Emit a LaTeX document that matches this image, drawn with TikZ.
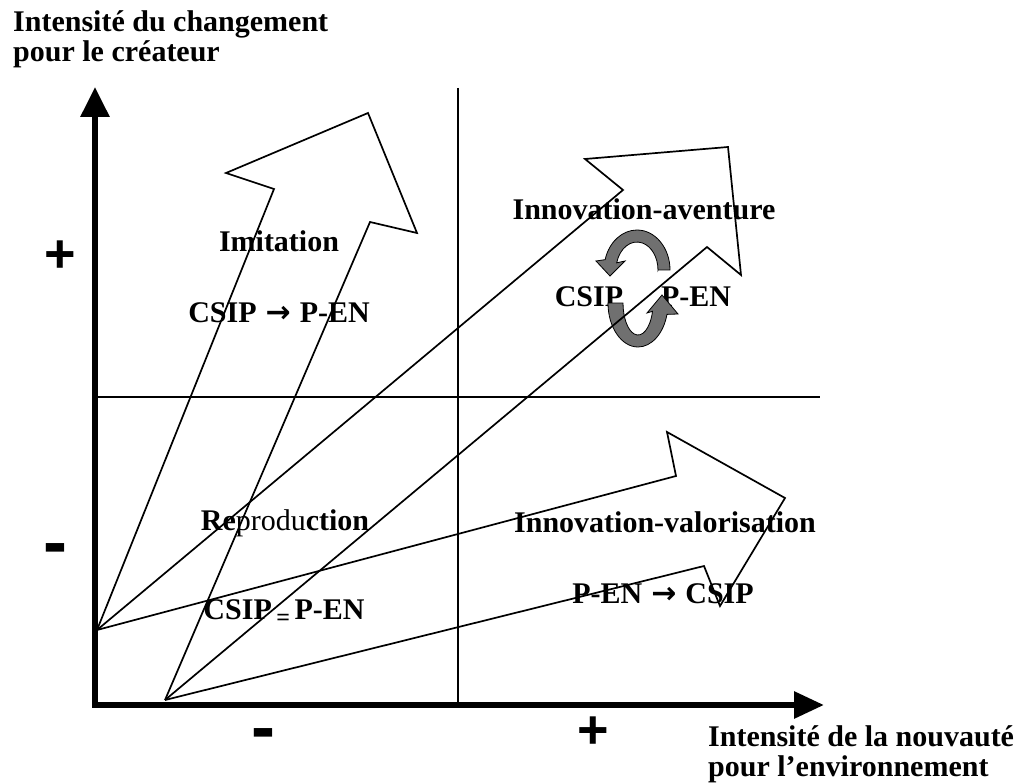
\documentclass[tikz,border=0pt]{standalone}
\usepackage{fontspec}
\setmainfont{Liberation Serif}
\newfontfamily\signfont{Liberation Sans}
\newfontfamily\symfont{DejaVu Sans}
\usetikzlibrary{arrows.meta}

\definecolor{turngray}{RGB}{112,112,112}
\newcommand{\flowsym}{\hspace{0.3em}{\symfont\bfseries\fontsize{30}{30}\selectfont →}\hspace{0.3em}}
\newcommand{\eqsym}{\hspace{0.15em}\raisebox{-0.5ex}{\fontsize{24}{24}\selectfont =}\hspace{0.15em}}

\tikzset{
  label text/.style={font=\fontsize{30}{30}\selectfont\bfseries, inner sep=0pt, anchor=base},
  sign text/.style={font=\signfont\bfseries, inner sep=0pt},
  big arrow/.style={draw, line width=1.7pt, line join=miter},
  turn arrow/.style={draw=black, line width=0.8pt, fill=turngray},
  axis/.style={line width=6pt, {Triangle[length=30pt,width=28pt]}-{Triangle[length=30pt,width=26pt]}},
  divider/.style={line width=1.4pt},
}

\begin{document}
\begin{tikzpicture}[x=1pt,y=-1pt]
	\useasboundingbox (0,0) rectangle (1030,783);
	% axis titles
	\node[label text, anchor=base west] (ytitle1) at (13,32) {Intensité du changement};
	\node[label text, anchor=base west] (ytitle2) at (13,62) {pour le créateur};
	\node[label text, anchor=base west] (xtitle1) at (708,746) {Intensité de la nouvauté};
	\node[label text, anchor=base west] (xtitle2) at (708,776) {pour l’environnement};
	% signs on the axes
	\node[sign text, font=\signfont\bfseries\fontsize{54}{54}\selectfont] (yplus) at (60,257) {+};
	\node[sign text, font=\signfont\bfseries\fontsize{72}{72}\selectfont] (yminus) at (55,555) {-};
	\node[sign text, font=\signfont\bfseries\fontsize{72}{72}\selectfont] (xminus) at (263,740) {-};
	\node[sign text, font=\signfont\bfseries\fontsize{54}{54}\selectfont] (xplus) at (593,733) {+};
	% quadrant labels
	\node[label text] (imit) at (279,252) {Imitation};
	\node[label text] (imitrel) at (279,323) {CSIP\flowsym P-EN};
	\node[label text] (avent) at (644,220) {Innovation-aventure};
	\node[label text] (aventcsip) at (589,307) {CSIP};
	\node[label text] (aventpen) at (696,307) {P-EN};
	\node[label text] (repro) at (285,530) {Re{\mdseries produ}ction};
	\node[label text] (reprorel) at (284,619) {CSIP\eqsym P-EN};
	\node[label text] (valo) at (665,532) {Innovation-valorisation};
	\node[label text] (valorel) at (663,603) {P-EN\flowsym CSIP};
	% turning arrows between CSIP and P-EN
	\filldraw[turn arrow] (658,270) -- (670,270) arc[start angle=0, end angle=-165, x radius=33, y radius=40]
		-- (596,261) -- (610,276) -- (625,261) -- (616.7,262.8) arc[start angle=-165, end angle=0, x radius=21, y radius=28] -- cycle;
	\filldraw[turn arrow] (608,303) arc[start angle=180, end angle=15, x radius=30, y radius=44]
		-- (678,314) -- (662,295) -- (647,313) -- (652.5,311.3) arc[start angle=15, end angle=180, x radius=15, y radius=32] -- cycle;
	% quadrant dividers
	\draw[divider] (458,88) -- (458,705);
	\draw[divider] (95,397) -- (820,397);
	% big outline arrows
	\coordinate (tailA) at (97,630);
	\coordinate (tailB) at (165,700);
	\draw[big arrow] (tailA) -- (274,189) -- (226,173) -- (368,113) -- (417,233) -- (370,222) -- (tailB);
	\draw[big arrow] (tailA) -- (623,190) -- (585,159) -- (728,147) -- (741,275) -- (707,247) -- (tailB);
	\draw[big arrow] (tailA) -- (676,476) -- (667,432) -- (785,498) -- (720,606) -- (704,566) -- (tailB);
	% axes
	\coordinate (ytip) at (95,87);
	\coordinate (origin) at (95,705);
	\coordinate (xtip) at (824,705);
	\draw[axis] (ytip) -- (origin) -- (xtip);
\end{tikzpicture}
\end{document}
